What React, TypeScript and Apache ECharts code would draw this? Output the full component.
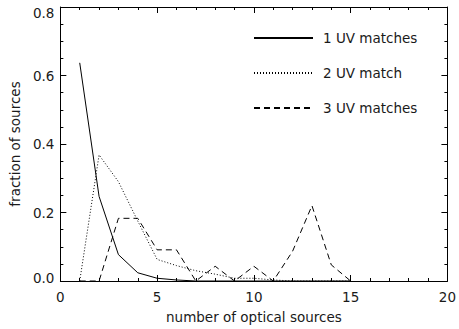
import React, { useEffect, useRef } from "react";
import * as echarts from "echarts";

const xValues = [1, 2, 3, 4, 5, 6, 7, 8, 9, 10, 11, 12, 13, 14, 15];
const oneUV = [0.637, 0.247, 0.077, 0.024, 0.008, 0.003, 0, 0, 0, 0, 0, 0, 0, 0, 0];
const twoUV = [0, 0.368, 0.29, 0.175, 0.063, 0.045, 0.03, 0.02, 0.008, 0.008, 0.003, 0, 0, 0, 0];
const threeUV = [0, 0, 0.183, 0.183, 0.091, 0.091, 0, 0.043, 0, 0.043, 0, 0.087, 0.22, 0.047, 0];
const seriesNames = ["1 UV matches", "2 UV match", "3 UV matches"];

const FONT = "DejaVu Sans";
const FS = 13.5;
const TXT = "#1a1a1a";

export default function App() {
  const ref = useRef<HTMLDivElement>(null);
  useEffect(() => {
    if (!ref.current) return;
    const chart = echarts.init(ref.current, null, { renderer: "svg" });
    const pairs = (ys: number[]) => xValues.map((x, i) => [x, ys[i]]);
    const tickCommon = {
      axisLine: { show: true, onZero: false, lineStyle: { color: "#000", width: 1 } },
      axisTick: { show: true, inside: true, length: 6, lineStyle: { color: "#000", width: 1 } },
      minorTick: { show: true, length: 3, lineStyle: { color: "#000", width: 1 } },
      splitLine: { show: false },
      minorSplitLine: { show: false },
    };
    chart.setOption({
      animation: false,
      backgroundColor: "#fff",
      grid: { left: 55, right: 9, top: 7, bottom: 42, containLabel: false },
      legend: {
        orient: "vertical",
        left: 253,
        top: 31,
        padding: 0,
        itemWidth: 59,
        itemHeight: 14,
        itemGap: 21,
        data: seriesNames,
        itemStyle: { opacity: 0 },
        textStyle: { fontFamily: FONT, fontSize: FS, color: TXT, padding: [0, 0, 0, 5] },
      },
      xAxis: [
        {
          type: "value",
          position: "bottom",
          min: 0,
          max: 20,
          interval: 5,
          ...tickCommon,
          minorTick: { ...tickCommon.minorTick, splitNumber: 5 },
          axisLabel: { color: TXT, fontFamily: FONT, fontSize: FS, margin: 9 },
          name: "number of optical sources",
          nameLocation: "middle",
          nameGap: 29,
          nameTextStyle: { color: TXT, fontFamily: FONT, fontSize: FS },
        },
        {
          type: "value",
          position: "top",
          min: 0,
          max: 20,
          interval: 5,
          ...tickCommon,
          minorTick: { ...tickCommon.minorTick, splitNumber: 5 },
          axisLabel: { show: false },
        },
      ],
      yAxis: [
        {
          type: "value",
          position: "left",
          min: 0,
          max: 0.8,
          interval: 0.2,
          ...tickCommon,
          minorTick: { ...tickCommon.minorTick, splitNumber: 4 },
          axisLabel: {
            color: TXT,
            fontFamily: FONT,
            fontSize: FS,
            margin: 6,
            formatter: (v: number) => {
              const s = v.toFixed(1);
              if (Math.abs(v - 0.8) < 1e-9) return "{t|" + s + "}";
              if (Math.abs(v) < 1e-9) return "{b|" + s + "}";
              return s;
            },
            rich: {
              t: { fontFamily: FONT, fontSize: FS, color: TXT, padding: [12, 0, 0, 0] },
              b: { fontFamily: FONT, fontSize: FS, color: TXT, padding: [0, 0, 6, 0] },
            },
          },
          name: "fraction of sources",
          nameLocation: "middle",
          nameGap: 33,
          nameTextStyle: { color: TXT, fontFamily: FONT, fontSize: FS },
        },
        {
          type: "value",
          position: "right",
          min: 0,
          max: 0.8,
          interval: 0.2,
          ...tickCommon,
          minorTick: { ...tickCommon.minorTick, splitNumber: 4 },
          axisLabel: { show: false },
        },
      ],
      series: [
        {
          name: seriesNames[0],
          type: "line",
          data: pairs(oneUV),
          symbol: "none",
          lineStyle: { color: "#000", width: 1, type: "solid" },
          itemStyle: { color: "#000" },
        },
        {
          name: seriesNames[1],
          type: "line",
          data: pairs(twoUV),
          symbol: "none",
          lineStyle: { color: "#000", width: 1, type: [1, 2] },
          itemStyle: { color: "#000" },
        },
        {
          name: seriesNames[2],
          type: "line",
          data: pairs(threeUV),
          symbol: "none",
          lineStyle: { color: "#000", width: 1, type: [6, 4] },
          itemStyle: { color: "#000" },
        },
      ],
    });
    return () => chart.dispose();
  }, []);
  return (
    <div
      ref={ref}
      style={{ position: "fixed", left: 0, top: 0, width: 459, height: 329, background: "#fff" }}
    />
  );
}
